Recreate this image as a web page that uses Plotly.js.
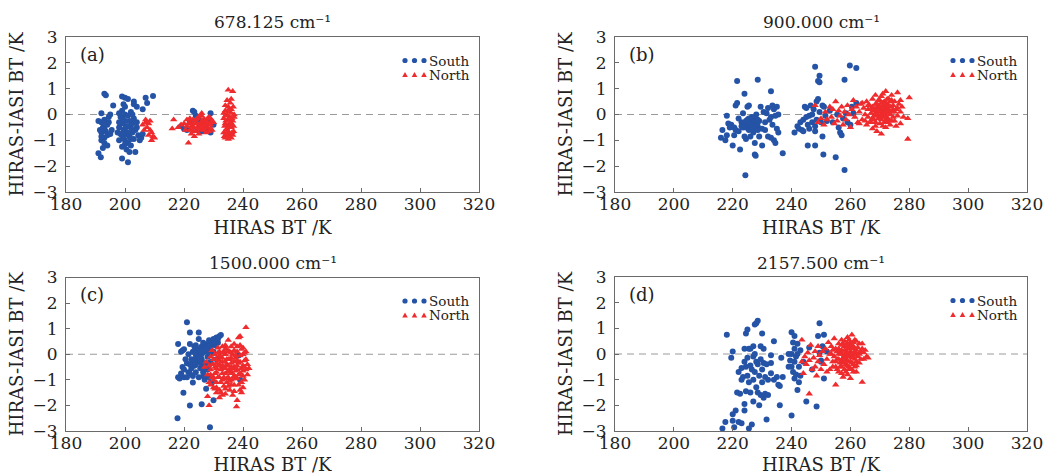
<!DOCTYPE html>
<html>
<head>
<meta charset="utf-8">
<script src="https://cdn.plot.ly/plotly-3.0.1.min.js"></script>
<style>html,body{margin:0;padding:0;background:#fff;}#chart{width:1047px;height:475px;}</style>
</head>
<body>
<div id="chart"></div>
<script>
// ---------- data (HIRAS BT [K], HIRAS-IASI BT [K]) ----------
const panelTitles = ['678.125 cm⁻¹', '900.000 cm⁻¹', '1500.000 cm⁻¹', '2157.500 cm⁻¹'];
const panelLabels = ['(a)', '(b)', '(c)', '(d)'];
const seriesNames = ['South', 'North'];
const xTickVals = [180, 200, 220, 240, 260, 280, 300, 320];
const yTickVals = [-3, -2, -1, 0, 1, 2, 3];

const aSouth = [[193,0.8],[193.5,0.75],[191,-0.25],[192,-0.3],[193,-0.2],[192.5,-0.5],[193,-0.55],[191.5,-0.6],[192,-0.7],[193.5,-0.65],[194,-0.4],[194.5,-0.3],[193,-0.9],[192,-1.0],[193,-1.1],[192.5,-1.3],[191,-1.5],[191.8,-1.65],[194,-0.8],[195,-0.75],[194.5,-0.1],[195,0.0],[192,0.05],[195.5,-0.6],[196,0.35],[194,-1.2],[193,-0.35],[192,-0.85],
[199,0.7],[200,0.65],[201,0.6],[199.5,0.4],[200,0.3],[199,0.15],[200,0.0],[198.5,-0.1],[201,-0.05],[202,0.1],[200,-0.25],[199,-0.35],[198,-0.5],[199.5,-0.6],[201,-0.45],[202,-0.5],[197.5,-0.7],[199,-0.8],[200.5,-0.75],[201.5,-0.85],[202.5,-0.7],[198,-1.0],[200,-1.0],[201,-1.1],[202,-1.2],[199,-1.25],[200.5,-1.35],[201.5,-1.45],[203.5,-1.45],[199,-1.7],[201,-1.85],[203,0.4],[204,0.3],[203,0.5],[202.5,0.0],[204,-0.3],[203.5,-0.6],[204.5,-0.8],[205,-1.0],[205.5,-0.9],[206,-0.75],[206,0.2],[207,0.65],[207.5,0.45],[209.5,0.72],[203,-0.95],[198,-0.3],[200,-0.55],[202,-0.95],[204,-0.5],
[199.5,-0.9],[200.5,-0.45],[201.5,-0.25],[198.5,-0.75],[202.5,-0.35],[200,-1.15],[201,-0.7],[199.5,-0.2],[203,-0.15],[198,0.05],
[219,-0.45],[220,-0.55],[221,-0.6],[223,0.15],[223.5,0.1],[224,-0.05],[225,-0.2],[226,-0.3],[227,-0.5],[228,-0.6],[229,-0.7],[229,0.05],[230,-0.4],[222,-0.3],[224.5,-0.6],[226,-0.65],[228,-0.25]];
const aNorth = [[206,-0.4],[207,-0.3],[207.5,-0.5],[208,-0.35],[208.5,-0.6],[209,-0.7],[209.5,-0.85],[210,-0.9],[209,-1.0],[208,-0.8],[207,-0.2],[206.5,-0.6],[208.5,-0.25],
[216.5,-0.2],[216,-0.55],[218,-0.5],[220,-0.35],[221,-0.45],[222,-0.3],[222,-0.6],[223,-0.2],[223,-0.5],[224,-0.35],[224,-0.65],[225,-0.1],[225,-0.45],[226,0.05],[226,-0.3],[226.5,-0.55],[227,-0.2],[227,-0.4],[227.5,-0.7],[228,-0.3],[228,-0.5],[229,-0.15],[229,-0.4],[229.5,-0.6],[221.5,-1.1],[223.5,-0.85],[225,-0.75],[222.5,-0.75],[224.5,-0.15],[226,-0.05],[221,-0.2],[228.5,-0.1],[230,-0.3],[223,-0.45],[225.5,-0.6],[227,-0.6],
[221.5,-0.35],[222.5,-0.45],[223.5,-0.3],[224.5,-0.5],[225.5,-0.35],[226.5,-0.2],[227.5,-0.45],[228.5,-0.35],[229.5,-0.25],[222,-0.15],[223,-0.65],[224,-0.2],[225,-0.55],[226,-0.45],[227,-0.3],[228,-0.15],[229,-0.55],[222.5,-0.55],[224.5,-0.35],[226.5,-0.4],[228.5,-0.65],[220.5,-0.6],[219,-0.4],
[235,0.95],[236.5,0.9],[236,0.6],[235,0.3],[234,0.15],[236,0.2],[237,0.0],[234.5,0.0],[235.5,-0.1],[233.5,-0.15],[236.5,-0.25],[234,-0.35],[235,-0.4],[236,-0.5],[234.5,-0.6],[233.5,-0.7],[235.5,-0.75],[236.5,-0.8],[234,-0.9],[235,-0.95],[236,-0.9],[233.8,-0.45],[236,-0.35],[235,-0.2],[234,0.35],[237,-0.1],[235.5,0.1],[234.5,-0.55],[236.8,-0.65],[233.5,0.05],[235,-0.65],[236,0.05],
[234.2,-0.25],[235.2,-0.5],[236.2,-0.15],[234.8,-0.8],[235.8,-0.3],[236.8,-0.45],[234,-0.05],[235.3,0.2],[236.3,-0.7],[233.7,-0.85],[235.7,0.45],[234.6,0.55],[236.7,0.3],[235,-0.85],[234.3,-0.75]];

const bSouth = [[216,-0.9],[216.5,-0.6],[217.5,-1.0],[218,-0.05],[218,-0.8],[218.5,-0.35],[219,-0.5],[219.5,-0.4],[220,-1.2],[220.5,-0.5],[221,0.35],[221.5,0.45],[221.5,1.3],[222,-0.65],[222.5,-1.35],[223,-0.3],[223,-0.45],[223.5,0.05],[224,0.8],[224,-0.35],[224,-0.85],[224.5,-0.5],[225,0.3],[225,-0.2],[225.5,0.35],[225.5,-0.6],[226,-0.25],[226,-0.45],[226,-0.85],[226.5,-0.35],[227,-0.15],[227,-0.5],[227,-0.7],[227.5,-1.1],[227.5,-1.55],[227.8,-1.6],[228,-0.3],[228,0.0],[228.5,1.35],[228.5,-0.45],[229,-0.25],[229,-0.85],[229.5,0.3],[230,-1.2],[230,-0.55],[230.5,0.1],[231,-0.3],[231,-0.6],[232,0.25],[232,-0.85],[232.5,-0.2],[233,0.9],[233,-0.9],[233.5,0.35],[233.5,-0.4],[234,0.2],[234,-1.0],[234.5,-0.05],[234.5,-1.1],[235,0.3],[235,-0.55],[235.5,-0.7],[235.5,0.0],[237,-1.5],[220.5,-0.8],[222,-0.15],[224.5,-0.95],[226.5,-0.1],[228.5,-0.6],[231.5,0.05],[233,-0.1],[224.3,-2.35],[221,-0.6],
[225,-0.35],[226,-0.3],[227,-0.35],[228,-0.4],[226.5,-0.55],[225.5,-0.15],[227.5,-0.25],[224.5,-0.25],[223.5,-0.5],[228.5,-0.2],
[241,-0.7],[242,-0.45],[242.5,-0.55],[243,-0.3],[243.5,-0.6],[244,-0.2],[244.5,0.3],[245,0.25],[245,-0.1],[245.5,-0.4],[245.5,-1.2],[246,-0.05],[246.5,0.35],[247,-0.3],[247,0.0],[247.5,0.2],[248,1.85],[248,-1.2],[248,-0.45],[248,-0.65],[248.5,0.5],[248.5,-0.2],[249,1.3],[249,0.6],[249.5,1.5],[249.5,1.25],[249.5,0.1],[250,-0.3],[250.5,0.35],[250.5,-0.85],[250.8,-1.55],[251,0.3],[251.5,-0.05],[252,-0.25],[253,0.15],[254,-0.3],[255,-1.65],[255.5,0.0],[256,-0.5],[256.5,-0.7],[257,-0.8],[257.5,-0.15],[258,1.35],[258,-2.15],[258.5,0.05],[259,-0.3],[259.8,1.9],[260,-0.4],[260.5,0.3],[261,0.05],[262,1.8],[262,0.45],[246,-0.55],[244,-0.65]];
const bNorth = [[248,0.35],[249,-0.3],[250,-0.15],[251,-0.4],[251.5,0.1],[252,-0.2],[253,0.3],[253.5,-0.1],[254,0.2],[254.5,-0.35],[255,0.5],[255.5,-0.25],[256,0.15],[256.5,-0.05],[257,0.3],[257.5,-0.4],[258,0.1],[258.5,-0.2],[259,0.35],[259.5,0.0],[260,-0.5],[260.5,0.2],[261,0.55],[261.5,-0.1],[262,0.3],[262.5,-0.3],[263,0.1],[263.5,0.4],[264,-0.2],[264.5,0.25],[265,0.0],[265.5,0.5],[265.5,-0.4],[266,0.2],[266,-0.1],[266.5,0.35],[267,-0.3],[267,0.05],[267.5,0.6],[267.5,-0.55],[268,0.15],[268,-0.2],[268.5,0.4],[268.5,-0.45],[269,0.0],[269,0.25],[269,-0.65],[269.5,0.55],[269.5,-0.15],[270,0.1],[270,0.3],[270,-0.35],[270.5,0.7],[270.5,0.0],[270.5,-0.75],[271,0.2],[271,-0.1],[271,0.45],[271.5,0.05],[271.5,-0.3],[272,0.9],[272,0.25],[272,-0.05],[272,-0.5],[272.5,0.15],[272.5,0.4],[273,-0.2],[273,0.6],[273,0.05],[273.5,0.3],[273.5,-0.4],[274,0.1],[274,0.75],[274.5,-0.1],[274.5,0.35],[275,0.5],[275,-0.25],[275.5,0.2],[276,0.85],[276,-0.05],[276.5,0.4],[277,0.1],[277,-0.35],[277.5,0.3],[278,-0.1],[279.5,-0.15],[279.5,-0.95],[280,0.65],[270,0.15],[271,0.1],[269,0.1],[272,0.1],[271.5,0.3],[270.5,0.25],[268,0.2],[273,0.2],[269.5,-0.05],[272.5,-0.15],[266.5,-0.3],[267.5,0.3],[271,0.8],[268.5,0.75],[263,-0.35],[264,0.45],
[268.5,0.05],[269.5,0.35],[270.5,-0.2],[271.5,0.5],[272.5,-0.3],[273.5,0.0],[274.5,0.2],[270,-0.15],[271,0.35],[272,0.45],[269,0.4],[268,-0.05],[267,0.2],[273,0.35],[274,-0.25],[275,0.1],[270,0.55],[271,-0.45],[272,-0.25],[269.5,0.15],[270.5,0.45],[271.5,-0.1],[272.5,0.6],[268.5,-0.3],[273.5,0.5],[267.5,-0.15],[266,0.35],[265,-0.25],[276,0.25],[277,0.55],[275.5,-0.45],[274,0.55]];

const cSouth = [[218,0.4],[218,-0.9],[218.5,-0.95],[219,0.1],[219,-0.75],[219.5,0.15],[219.5,-0.5],[219.8,-1.5],[220,0.2],[220,-0.6],[220.5,-0.2],[221,1.25],[221,-0.35],[221.5,0.0],[221.5,-0.7],[222,0.85],[222,0.4],[222,-2.0],[222.5,-0.55],[222.5,-0.2],[223,0.1],[223,-0.85],[223,-1.1],[223.5,0.3],[223.5,-0.45],[224,-0.15],[224,-0.7],[224.5,0.2],[224.5,-0.3],[225,0.85],[225,0.6],[225,-0.9],[225.5,0.05],[225.5,-0.55],[226,0.3],[226,-0.2],[226,-1.95],[226.5,0.45],[226.5,-0.7],[227,0.1],[227,-0.35],[227,-1.0],[227.5,0.3],[227.5,-1.35],[228,0.4],[228,-0.1],[228,-0.6],[228.5,0.55],[228.5,-0.85],[228.8,-2.85],[229,0.2],[229,-0.3],[229.5,0.5],[229.5,-1.1],[230,0.6],[230,-1.8],[230.5,0.35],[231,0.65],[231,-0.2],[231.5,0.45],[232,0.7],[232.5,0.75],[217.8,-2.5],[233,-0.5],[239,-1.0],[238.5,-0.05],[220,-0.9],[222,-0.4],[224,0.0],[226,0.0],[228,0.1],[230,0.1],
[225,0.2],[226,0.1],[227,0.2],[228,0.25],[229,0.35],[230,0.45],[224,0.35],[223,-0.3],[225,-0.1],[226,-0.4],[227,-0.6],[228,-0.35],[229,0.0],[230.5,0.5],[231.5,0.6],[221,-0.9],[222,-0.75],[224,-0.4],[226.5,-0.85],[228.5,-0.9]];
const cNorth = [[227,-0.5],[227.5,-0.3],[228,-0.8],[228,-1.65],[228.5,-2.0],[229,-0.1],[229,-0.6],[229,-1.2],[229.5,0.15],[229.5,-0.4],[230,-0.9],[230,-1.3],[230.5,0.0],[230.5,-0.5],[231,-0.2],[231,-0.7],[231,-1.1],[231.5,0.25],[231.5,-0.45],[232,-0.9],[232,-1.4],[232,-1.7],[232.5,-0.1],[232.5,-0.6],[233,0.3],[233,-0.3],[233,-1.0],[233.5,-0.55],[233.5,-1.25],[234,0.35],[234,0.0],[234,-0.75],[234.5,-0.4],[234.5,-1.1],[235,0.55],[235,-0.2],[235,-0.9],[235.5,0.1],[235.5,-0.6],[235.5,-1.4],[236,0.3],[236,-0.35],[236,-1.0],[236.5,0.0],[236.5,-0.75],[237,0.4],[237,-0.5],[237,-1.2],[237.5,-0.15],[237.5,-0.9],[237.8,-2.05],[238,0.1],[238,-0.6],[238,-1.8],[238.5,0.65],[238.5,-0.35],[239,0.7],[239,-0.05],[239,-1.4],[239.5,0.2],[239.5,-0.8],[240,0.0],[240,-0.45],[240,-1.3],[240.5,-0.25],[241,1.05],[241,-0.6],[241,0.1],[241.5,-0.4],[242,-0.55],[230,-0.4],[231,-0.35],[232,-0.4],[233,-0.45],[234,-0.3],[235,-0.45],[236,-0.5],[237,-0.3],[238,-0.25],[232,-0.05],[234,-1.35],[236,-1.2],[238,-0.95],[240,-0.85],[228.5,-0.45],[230,-1.0],[233.5,0.1],[235.5,-0.2],[239.5,-0.55],[240.5,-1.0],[234.5,0.2],[236.5,-1.6],[231,-1.5],[233,-1.6],[230.5,-1.35],
[231,-0.55],[232,-0.25],[233,-0.75],[234,-0.55],[235,-0.7],[236,-0.75],[237,-0.85],[238,-0.45],[239,-0.3],[240,-0.65],[231.5,-0.9],[232.5,-1.1],[233.5,-0.9],[234.5,-0.95],[235.5,-1.05],[236.5,-0.55],[237.5,-0.65],[238.5,-0.8],[239.5,-1.1],[240.5,-0.5],[232,0.1],[233,0.05],[234,0.2],[235,0.1],[236,0.05],[237,0.15],[238,0.3],[239,0.35],[240,0.25],[241,-0.2],[241.5,-0.8],[230.5,-0.75],[229.5,-0.9],[231,-1.3],[232.5,-1.5],[234,-1.55],[235,-1.25],[237,-1.45],[238.5,-1.2],[239.5,-1.5],[233,-0.15],[236,-0.15],[235,-0.65],[230,-0.2],[229,-0.8],[228.5,-1.1],[231.5,0.05],[234.5,-0.2],[237.5,-0.05],[240.5,0.05],[239,-0.75],[236.5,-0.95]];

const dSouth = [[216.5,-2.9],[217.5,-2.65],[218,0.75],[219.5,-0.15],[220,0.1],[220,-2.35],[220,-2.6],[220.5,-2.85],[221,-2.2],[221.5,-1.5],[222,-0.7],[222,-2.65],[222.5,-1.55],[223,-0.55],[223,-1.0],[223,-2.7],[223.5,-0.9],[224,0.2],[224,-0.3],[224,-1.95],[224,-2.2],[224.5,0.8],[224.5,-0.5],[224.5,-1.45],[225,0.95],[225,-0.15],[225,-0.85],[225.5,0.2],[225.5,-1.1],[225.5,-2.9],[226,-0.45],[226,-1.5],[226.5,-0.6],[226.5,-2.75],[227,0.3],[227,-0.1],[227,-1.0],[227,-1.85],[227.5,1.15],[227.5,0.0],[227.5,-0.7],[228,1.2],[228,-0.3],[228,-1.3],[228.5,1.3],[228.5,-0.4],[228.5,-1.5],[229,-0.85],[229,-2.0],[229.5,0.3],[229.5,-0.2],[229.5,-1.6],[230,0.8],[230,-0.6],[230,-1.1],[230.5,0.2],[230.5,-0.35],[230.5,-1.7],[231,-0.9],[231,-1.55],[231.5,-0.4],[231.5,-2.55],[232,-1.0],[232,-1.6],[233,-0.35],[233,-0.75],[234,0.5],[234,-1.0],[235,-0.9],[235.5,-1.2],[236,-2.0],[236,-1.25],[236.5,-0.15],[237,-0.9],[240,0.85],[240,0.0],[240,-0.5],[240,-2.4],[240.5,-0.7],[241,0.7],[241,0.2],[241,-0.3],[241,-0.95],[241.5,-0.1],[241.5,-0.8],[242,0.4],[242,0.0],[242,-1.4],[242.5,-0.5],[242.5,-1.1],[243,0.15],[243,-0.85],[239,-0.5],[239.5,-0.25],[244,-0.3],[245,-1.85],[246,0.25],[247,-0.6],[248.5,-2.05],[249,0.7],[249.5,1.2],[249.5,0.05],[250,-0.3],[250.5,0.3],[251,0.75],[251,-0.95],[250,-0.25],[252,0.1],[226,0.2],[233,-0.05],[239,0.0],[240.5,0.45]];
const dNorth = [[243.5,0.55],[243.5,-0.3],[244,-0.75],[244.5,-0.1],[245,-0.4],[245.5,0.05],[246,-0.25],[246,-1.55],[246.5,0.35],[247,-0.6],[247.5,-0.15],[248,0.1],[248,-0.5],[248.5,-0.85],[249,0.3],[249,-0.3],[249.5,-0.05],[250,-0.6],[250.5,0.1],[251,-0.4],[251.5,0.2],[252,-0.2],[252.5,0.45],[253,0.0],[253,-0.6],[253.5,0.3],[254,-0.3],[254.5,0.6],[254.5,-0.1],[255,0.2],[255,-0.5],[255,-1.2],[255.5,-0.2],[256,0.4],[256,0.0],[256,-0.7],[256.5,-0.35],[257,0.55],[257,0.15],[257,-0.5],[257.5,-0.15],[257.5,-0.9],[258,0.3],[258,-0.05],[258,-0.6],[258.5,0.05],[258.5,-0.4],[259,0.65],[259,0.2],[259,-0.25],[259,-0.8],[259.5,0.0],[259.5,-0.5],[260,0.45],[260,0.1],[260,-0.3],[260,-0.95],[260.5,0.75],[260.5,-0.15],[260.5,-0.6],[261,0.3],[261,0.0],[261,-0.4],[261.5,0.55],[261.5,-0.2],[262,0.15],[262,-0.7],[262.5,-0.1],[263,0.4],[263,-0.35],[263.5,0.1],[264,0.4],[264,-1.1],[264.5,-0.2],[265,0.15],[265.5,-0.1],[266,-0.15],[258,0.15],[259,0.05],[257,-0.25],[260,-0.05],[261,0.2],[258.5,-0.2],[259.5,0.3],[256.5,0.1],[262,0.0],[257.5,0.4],[255.5,-0.6],[261.5,-0.5],[254,0.15],[252,-0.7],
[256,0.2],[257,0.35],[258,0.5],[259,0.4],[260,0.25],[261,-0.1],[262,-0.3],[263,0.0],[257.5,-0.35],[258.5,-0.7],[259.5,-0.6],[260.5,0.35],[261.5,0.1],[256.5,-0.5],[255.5,0.1],[258,-0.3],[259,-0.45],[260,-0.6],[261,-0.7],[262,0.5],[262.5,0.25],[263.5,-0.2],[264.5,0.05],[257,0.0],[258,0.0],[259,-0.1],[260,0.0],[261,0.45],[259.5,0.55],[258.5,0.35],[260.5,-0.35],[256,-0.2],[257,-0.75],[262,-0.45],[255,-0.3],[254,-0.5],[253.5,0.0],[264,0.2]];

// ---------- style / layout ----------
const W = 1047, H = 475;
const FONT = 'DejaVu Serif';
const BLUE = '#2553a6', RED = '#ef2b2d';
const px = v => v / W, py = v => 1 - v / H;

const panels = [
  {s: aSouth, n: aNorth, xd: [66, 479], yd: [37, 192], tY: 22},
  {s: bSouth, n: bNorth, xd: [615, 1027], yd: [37, 192], tY: 22},
  {s: cSouth, n: cNorth, xd: [66, 479], yd: [277.5, 431], tY: 263},
  {s: dSouth, n: dNorth, xd: [615, 1027], yd: [277, 431], tY: 263}
];

const traces = [];
const layout = {
  width: W, height: H, margin: {l: 0, r: 0, t: 0, b: 0},
  paper_bgcolor: '#fff', plot_bgcolor: '#fff', showlegend: false,
  font: {family: FONT, color: '#222'},
  annotations: [], shapes: []
};

panels.forEach((p, i) => {
  const k = i === 0 ? '' : String(i + 1);
  const xa = 'x' + k, ya = 'y' + k;
  traces.push({type: 'scatter', mode: 'markers', name: seriesNames[0], xaxis: xa, yaxis: ya,
    x: p.s.map(d => d[0]), y: p.s.map(d => d[1]),
    marker: {symbol: 'circle', size: 6, color: BLUE}});
  traces.push({type: 'scatter', mode: 'markers', name: seriesNames[1], xaxis: xa, yaxis: ya,
    x: p.n.map(d => d[0]), y: p.n.map(d => d[1]),
    marker: {symbol: 'triangle-up', size: 6.5, color: RED}});

  const axBase = {showgrid: false, zeroline: false, showline: true, mirror: true, linecolor: '#6a6a6a', linewidth: 1,
    ticks: 'inside', ticklen: 4, tickcolor: '#6a6a6a', tickfont: {family: FONT, size: 17, color: '#222'}};
  layout['xaxis' + k] = Object.assign({}, axBase, {
    domain: [px(p.xd[0]), px(p.xd[1])], anchor: ya, range: [180, 320], tickvals: xTickVals,
    ticklabelstandoff: -3,
    title: {text: 'HIRAS BT /K', font: {family: FONT, size: 18, color: '#222'}, standoff: 7}});
  layout['yaxis' + k] = Object.assign({}, axBase, {
    domain: [py(p.yd[1]), py(p.yd[0])], anchor: xa, range: [-3, 3], tickvals: yTickVals,
    ticklabelstandoff: 4,
    title: {text: 'HIRAS-IASI BT /K', font: {family: FONT, size: 18, color: '#222'}, standoff: 4}});

  layout.shapes.push({type: 'line', xref: xa + ' domain', yref: ya, x0: 0, x1: 1, y0: 0, y1: 0,
    line: {color: '#9a9a9a', width: 1, dash: '7px,5px'}, layer: 'below'});

  const cx = (p.xd[0] + p.xd[1]) / 2;
  layout.annotations.push({xref: 'paper', yref: 'paper', x: px(cx), y: py(p.tY), xanchor: 'center', yanchor: 'middle',
    showarrow: false, text: panelTitles[i], font: {family: FONT, size: 17, color: '#222'}});
  layout.annotations.push({xref: 'paper', yref: 'paper', x: px(p.xd[0] + 12), y: py(p.yd[0] + 17), xanchor: 'left', yanchor: 'middle',
    showarrow: false, text: panelLabels[i], font: {family: FONT, size: 18, color: '#222'}});

  // legend: three swatch symbols drawn as shapes + series name
  const lx = p.xd[1] - 52;
  const ly = p.yd[0] + 23.5;
  const gap = 14;
  [lx - 22, lx - 12.5, lx - 3].forEach(sx => {
    const r = 2.6;
    layout.shapes.push({type: 'circle', xref: 'paper', yref: 'paper',
      x0: px(sx - r), x1: px(sx + r), y0: py(ly + r), y1: py(ly - r),
      fillcolor: BLUE, line: {width: 0}});
    const ty = ly + gap, h = 2.6, w = 2.8;
    layout.shapes.push({type: 'path', xref: 'paper', yref: 'paper',
      path: `M ${px(sx - w)} ${py(ty + h)} L ${px(sx + w)} ${py(ty + h)} L ${px(sx)} ${py(ty - h)} Z`,
      fillcolor: RED, line: {width: 0}});
  });
  layout.annotations.push({xref: 'paper', yref: 'paper', x: px(lx + 1), y: py(ly), xanchor: 'left', yanchor: 'middle',
    showarrow: false, text: seriesNames[0], font: {family: FONT, size: 13.5, color: '#222'}, borderpad: 0});
  layout.annotations.push({xref: 'paper', yref: 'paper', x: px(lx + 1), y: py(ly + gap), xanchor: 'left', yanchor: 'middle',
    showarrow: false, text: seriesNames[1], font: {family: FONT, size: 13.5, color: '#222'}, borderpad: 0});
});

Plotly.newPlot('chart', traces, layout, {displayModeBar: false, staticPlot: true});
</script>
</body>
</html>
